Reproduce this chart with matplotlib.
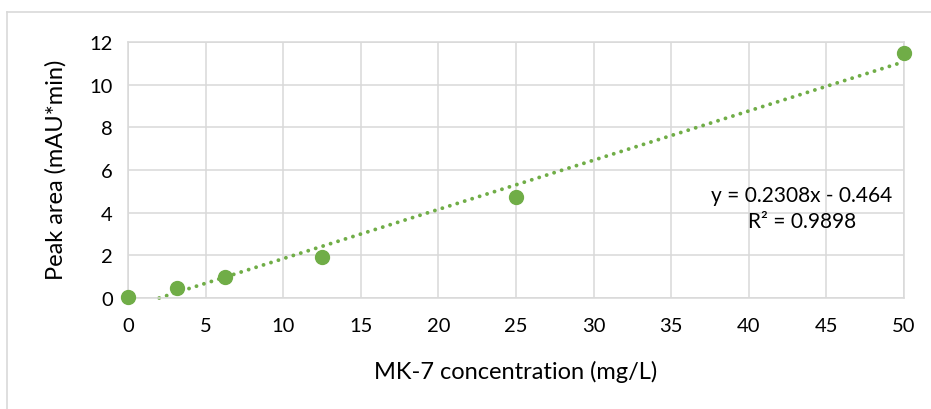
import matplotlib
matplotlib.use("Agg")
import matplotlib.pyplot as plt
from matplotlib.lines import Line2D
import numpy as np

plt.rcParams['font.family'] = ['Lato', 'DejaVu Sans']

conc = [0, 3.125, 6.25, 12.5, 25, 50]
peak_area = [0.03, 0.45, 1.0, 1.94, 4.73, 11.48]
slope = 0.2308
intercept = -0.464
r_squared = 0.9898
x_ticks = [0, 5, 10, 15, 20, 25, 30, 35, 40, 45, 50]
y_ticks = [0, 2, 4, 6, 8, 10, 12]

green = '#70AD47'
grid_c = '#D9D9D9'

W, H = 931, 410
fig = plt.figure(figsize=(W / 100, H / 100), dpi=100)
ax = fig.add_axes([128 / W, 1 - 299 / H, (904 - 128) / W, (299 - 43) / H])

# outer chart border
fig.add_artist(Line2D([7 / W, 7 / W], [0, 1 - 13 / H], color=grid_c, lw=1.2, transform=fig.transFigure))
fig.add_artist(Line2D([7 / W, 1], [1 - 13 / H, 1 - 13 / H], color=grid_c, lw=1.2, transform=fig.transFigure))

ax.set_xlim(0, 50)
ax.set_ylim(0, 12)
ax.set_xticks(x_ticks)
ax.set_yticks(y_ticks)
ax.grid(True, color=grid_c, lw=1.1)
ax.set_axisbelow(True)
for s in ax.spines.values():
    s.set_color(grid_c)
    s.set_linewidth(1.1)
ax.tick_params(length=0, labelsize=14.5, colors='#000000')
ax.tick_params(axis='x', pad=14)
ax.tick_params(axis='y', pad=11)

# trendline
x0 = -intercept / slope
xt = np.linspace(x0, max(conc), 200)
ax.plot(xt, slope * xt + intercept, color=green, lw=2.8, linestyle=(0, (0.01, 2.0)),
        dash_capstyle='round', zorder=2, clip_on=False)

ax.plot(conc, peak_area, 'o', color=green, markersize=10, zorder=3, clip_on=False)

ax.text(802 / W, 1 - 209 / H, f"y = {slope}x - {abs(intercept)}\nR² = {r_squared}",
        transform=fig.transFigure, ha='center', va='center', fontsize=15,
        linespacing=1.4, multialignment='center')

fig.text(516 / W, 1 - 372 / H, "MK-7 concentration (mg/L)", ha='center', va='center', fontsize=17)
fig.text(56 / W, 1 - 170 / H, "Peak area (mAU*min)", ha='center', va='center', fontsize=17, rotation=90)

fig.savefig("out.png", dpi=100, facecolor='white')
